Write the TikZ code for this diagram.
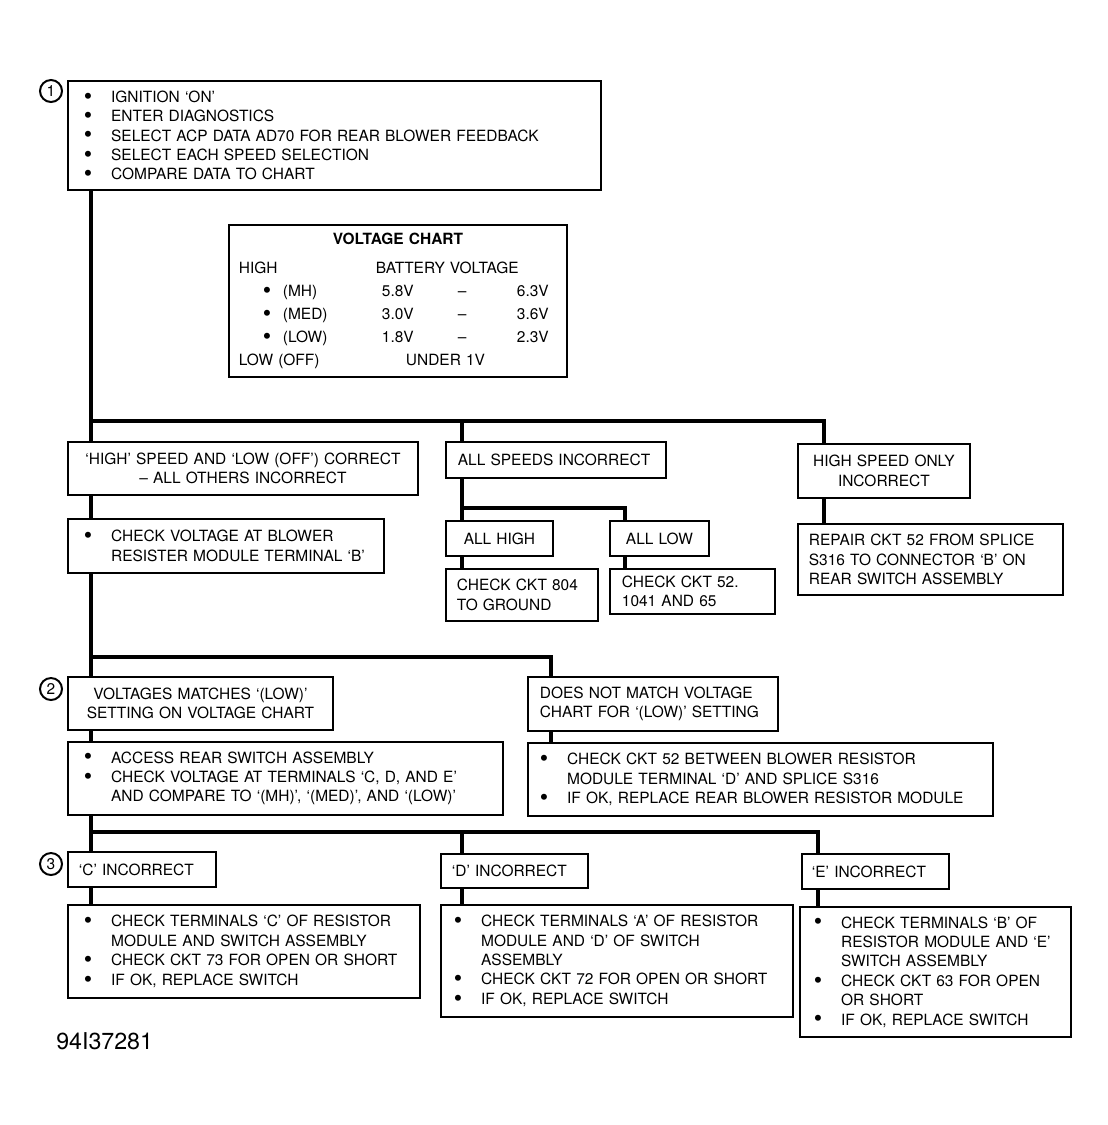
\documentclass[tikz,border=0pt]{standalone}
\usepackage{fontspec}
\setmainfont{TeX Gyre Heros}
\usepackage{tikz}
\newcommand{\bigdot}{\smash{\raisebox{-1.3pt}{\fontsize{17}{17}\selectfont\textbullet}}}
\newcommand{\bul}{\makebox[0.68cm][l]{\bigdot}}
\newcommand{\ind}{\hspace*{0.68cm}}
\newcommand{\cw}[2]{\makebox[#1cm][l]{#2}}

\begin{document}
\begin{tikzpicture}[x=0.025cm, y=-0.025cm,
    box/.style={draw, line width=1.3pt, fill=white, anchor=north west, inner ysep=0pt,
      align=left, font=\fontsize{11}{13.8}\selectfont},
    conn/.style={line width=2.8pt},
    num/.style={draw, circle, line width=1.4pt, minimum size=0.55cm, inner sep=0pt,
      font=\fontsize{11}{13}\selectfont}]
     \useasboundingbox (0,0) rectangle (1108,1125);

     \node[box, inner xsep=0.4cm, text width=12.525cm, minimum height=2.725cm] (b1) at (67,80)
       {\bul IGNITION `ON'\\ \bul ENTER DIAGNOSTICS\\ \bul SELECT ACP DATA AD70 FOR REAR BLOWER FEEDBACK\\
        \bul SELECT EACH SPEED SELECTION\\ \bul COMPARE DATA TO CHART};
     \node[num] (n1) at (51,91) {1};

     \node[box, inner xsep=0.25cm, text width=7.95cm, minimum height=3.8cm,
       font=\fontsize{11}{16.2}\selectfont] (chart) at (228,224)
       {\makebox[\hsize][c]{\bfseries VOLTAGE CHART}\\[4.4pt]
        \cw{3.425}{HIGH}BATTERY VOLTAGE\\
        \hspace*{0.6cm}\cw{0.5}{\bigdot}\cw{2.475}{(MH)}\cw{1.9}{5.8V}\cw{1.475}{--}6.3V\\
        \hspace*{0.6cm}\cw{0.5}{\bigdot}\cw{2.475}{(MED)}\cw{1.9}{3.0V}\cw{1.475}{--}3.6V\\
        \hspace*{0.6cm}\cw{0.5}{\bigdot}\cw{2.475}{(LOW)}\cw{1.9}{1.8V}\cw{1.475}{--}2.3V\\
        \cw{4.175}{LOW (OFF)}UNDER 1V};

     \node[box, align=center, inner xsep=0.25cm, text width=8.25cm, minimum height=1.325cm] (hs) at (67,441)
       {`HIGH' SPEED AND `LOW (OFF') CORRECT\\ -- ALL OTHERS INCORRECT};
     \node[box, inner xsep=0.4cm, text width=7.1cm, minimum height=1.35cm] (chkv) at (67,518)
       {\bul CHECK VOLTAGE AT BLOWER\\ \ind RESISTER MODULE TERMINAL `B'};

     \node[box, inner xsep=0.3cm, text width=4.9cm, minimum height=0.9cm] (allsp) at (445,441)
       {ALL SPEEDS INCORRECT};
     \node[box, align=center, inner xsep=0.2cm, text width=2.275cm, minimum height=0.875cm] (allhi) at (445,520)
       {ALL HIGH};
     \node[box, align=center, inner xsep=0.2cm, text width=2.075cm, minimum height=0.875cm] (alllo) at (609,520)
       {ALL LOW};
     \node[box, inner xsep=0.275cm, text width=3.25cm, minimum height=1.3cm] (ck804) at (445,568)
       {CHECK CKT 804\\ TO GROUND};
     \node[box, inner xsep=0.3cm, text width=3.525cm, minimum height=1.125cm] (ck52) at (609,568)
       {CHECK CKT 52.\\ 1041 AND 65};

     \node[box, align=center, inner xsep=0.2cm, text width=3.9cm, minimum height=1.35cm] (hso) at (797,443)
       {HIGH SPEED ONLY\\ INCORRECT};
     \node[box, inner xsep=0.275cm, text width=6.075cm, minimum height=1.775cm] (rep) at (797,523)
       {REPAIR CKT 52 FROM SPLICE\\ S316 TO CONNECTOR `B' ON\\ REAR SWITCH ASSEMBLY};

     \node[box, align=center, inner xsep=0.2cm, text width=6.225cm, minimum height=1.325cm] (vm) at (67,676)
       {VOLTAGES MATCHES `(LOW)'\\ SETTING ON VOLTAGE CHART};
     \node[num] (n2) at (51,689) {2};
     \node[box, inner xsep=0.4cm, text width=10.075cm, minimum height=1.825cm] (acc) at (67,741)
       {\bul ACCESS REAR SWITCH ASSEMBLY\\ \bul CHECK VOLTAGE AT TERMINALS `C, D, AND E'\\
        \ind AND COMPARE TO `(MH)', `(MED)', AND `(LOW)'};
     \node[box, inner xsep=0.3cm, text width=5.65cm, minimum height=1.35cm] (dnm) at (527,676)
       {DOES NOT MATCH VOLTAGE\\ CHART FOR `(LOW)' SETTING};
     \node[box, inner xsep=0.3cm, text width=11.025cm, minimum height=1.825cm] (ck52b) at (527,742)
       {\bul CHECK CKT 52 BETWEEN BLOWER RESISTOR\\ \ind MODULE TERMINAL `D' AND SPLICE S316\\
        \bul IF OK, REPLACE REAR BLOWER RESISTOR MODULE};

     \node[box, inner xsep=0.275cm, text width=3.15cm, minimum height=0.875cm] (cinc) at (67,851)
       {`C' INCORRECT};
     \node[num] (n3) at (51,864) {3};
     \node[box, inner xsep=0.275cm, text width=3.125cm, minimum height=0.85cm] (dinc) at (440,853)
       {`D' INCORRECT};
     \node[box, inner xsep=0.25cm, text width=3.175cm, minimum height=0.875cm] (einc) at (801,853)
       {`E' INCORRECT};
     \node[box, inner xsep=0.4cm, text width=8cm, minimum height=2.325cm] (cbul) at (67,904)
       {\bul CHECK TERMINALS `C' OF RESISTOR\\ \ind MODULE AND SWITCH ASSEMBLY\\
        \bul CHECK CKT 73 FOR OPEN OR SHORT\\ \bul IF OK, REPLACE SWITCH};
     \node[box, inner xsep=0.325cm, text width=8.15cm, minimum height=2.8cm] (dbul) at (440,904)
       {\bul CHECK TERMINALS `A' OF RESISTOR\\ \ind MODULE AND `D' OF SWITCH\\ \ind ASSEMBLY\\
        \bul CHECK CKT 72 FOR OPEN OR SHORT\\ \bul IF OK, REPLACE SWITCH};
     \node[box, inner xsep=0.35cm, text width=6.075cm, minimum height=3.25cm] (ebul) at (799,906)
       {\bul CHECK TERMINALS `B' OF\\ \ind RESISTOR MODULE AND `E'\\ \ind SWITCH ASSEMBLY\\
        \bul CHECK CKT 63 FOR OPEN\\ \ind OR SHORT\\ \bul IF OK, REPLACE SWITCH};

     \node[anchor=west, inner sep=0pt, font=\fontsize{16.5}{18}\selectfont] (code) at (56,1041) {94I37281};

     \coordinate (j1) at (91,421);
     \coordinate (j1m) at (462,421);
     \coordinate (j1r) at (824,421);
     \coordinate (j1a) at (462,508);
     \coordinate (j1b) at (625,508);
     \coordinate (j2) at (91,657);
     \coordinate (j2r) at (551,657);
     \coordinate (j3) at (91,832);
     \coordinate (j3m) at (462,832);
     \coordinate (j3r) at (818,832);

     \draw[conn] (b1.south -| j1) -- (hs.north -| j1);
     \draw[conn] (j1) -- (j1r) -- (hso.north -| j1r);
     \draw[conn] (j1m) -- (allsp.north -| j1m);
     \draw[conn] (hso.south -| j1r) -- (rep.north -| j1r);
     \draw[conn] (allsp.south -| j1m) -- (allhi.north -| j1m);
     \draw[conn] (j1a) -- (j1b) -- (alllo.north -| j1b);
     \draw[conn] (allhi.south -| j1m) -- (ck804.north -| j1m);
     \draw[conn] (alllo.south -| j1b) -- (ck52.north -| j1b);
     \draw[conn] (hs.south -| j1) -- (chkv.north -| j1);
     \draw[conn] (chkv.south -| j1) -- (vm.north -| j1);
     \draw[conn] (j2) -- (j2r) -- (dnm.north -| j2r);
     \draw[conn] (vm.south -| j1) -- (acc.north -| j1);
     \draw[conn] (dnm.south -| j2r) -- (ck52b.north -| j2r);
     \draw[conn] (acc.south -| j1) -- (cinc.north -| j1);
     \draw[conn] (j3) -- (j3r) -- (einc.north -| j3r);
     \draw[conn] (j3m) -- (dinc.north -| j3m);
     \draw[conn] (cinc.south -| j1) -- (cbul.north -| j1);
     \draw[conn] (dinc.south -| j3m) -- (dbul.north -| j3m);
     \draw[conn] (einc.south -| j3r) -- (ebul.north -| j3r);
\end{tikzpicture}
\end{document}
